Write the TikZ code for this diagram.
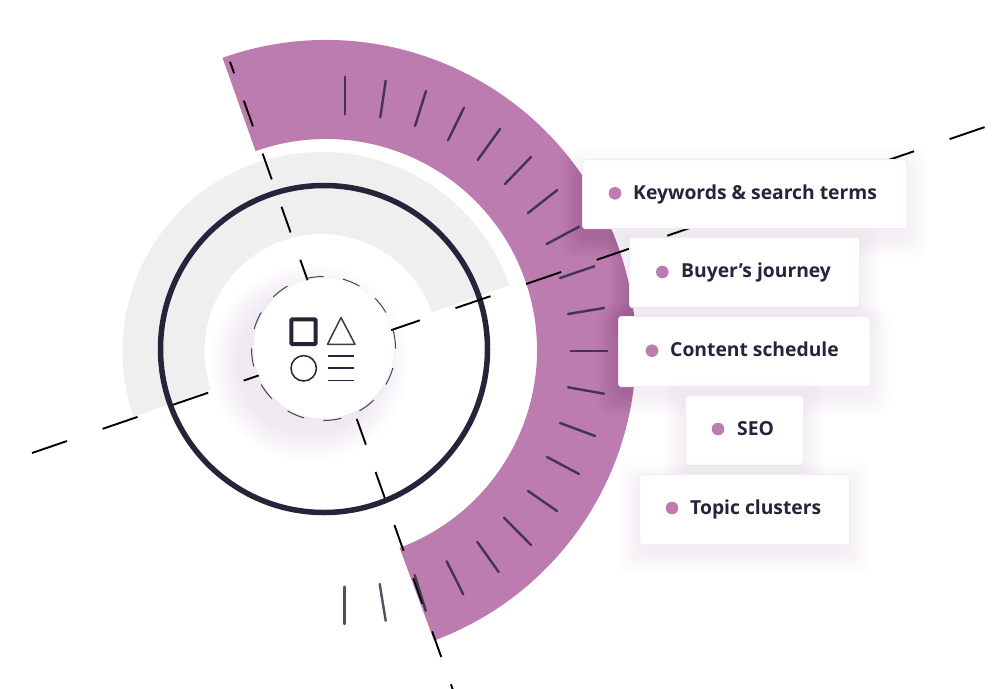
\documentclass[tikz,border=0pt]{standalone}
\usepackage{fontspec}
\setmainfont{Open Sans}
\newfontfamily\labelfont{Open Sans Bold}
\usetikzlibrary{calc}
\definecolor{ringpurple}{HTML}{BC7CB0}
\definecolor{ringgrey}{HTML}{EFEFEF}
\definecolor{inkdark}{HTML}{25243A}
\definecolor{shadowtint}{HTML}{7A4A80}
\definecolor{boxedge}{HTML}{F1EEF1}
\tikzset{
  tickmark/.style={draw=inkdark,opacity=.8,line width=2.4pt,line cap=round},
  dashline/.style={draw=black,line width=1.9pt},
  boxnode/.style={draw=boxedge,line width=1.2pt,fill=white,rounded corners=3pt,inner sep=0pt,anchor=north west},
  dotnode/.style={circle,fill=ringpurple,inner sep=0pt,minimum size=12.6pt},
  labelnode/.style={anchor=base west,inner sep=0pt,text=inkdark,font=\labelfont\fontsize{19.3}{24}\selectfont},
  iconline/.style={draw=inkdark,line cap=butt},
}
% box with soft shadow: name, x0, y0, width, height
\newcommand{\shadowbox}[5]{%
  \foreach \k in {1,...,22}{%
    \fill[shadowtint,opacity=.0045,rounded corners=12pt]
      (#2-23+\k,#3+9-23+\k) rectangle (#2+#4+23-\k,#3+#5+9+23-\k);
  }%
  \node[boxnode,minimum width=#4pt,minimum height=#5pt] (#1) at (#2,#3) {};
}
\begin{document}
\begin{tikzpicture}[x=1pt,y=-1pt]
\useasboundingbox (0,0) rectangle (1000,688);
\clip (0,0) rectangle (1000,688);
\coordinate (cbig) at (326,350);
\coordinate (cgrey) at (321.5,351);
\coordinate (cdark) at (324,349);
\coordinate (cicon) at (323.5,348.5);
% purple ring
\fill[ringpurple] ($(cbig)+(109.5:310pt)$) arc[start angle=109.5,end angle=-69.6,radius=310pt]
  -- ($(cbig)+(-69.6:211pt)$) arc[start angle=-69.6,end angle=109.5,radius=211pt] -- cycle;
% grey ring
\fill[ringgrey] ($(cgrey)+(19.3:199pt)$) arc[start angle=19.3,end angle=199.3,radius=199pt]
  -- ($(cgrey)+(199.3:117pt)$) arc[start angle=199.3,end angle=19.3,radius=117pt] -- cycle;
% dark ring
\draw[inkdark,line width=5.5pt] (cdark) circle[radius=163.5pt];
% disc shadow
\foreach \k in {1,...,30}{
  \fill[shadowtint,opacity=.0042] ($(cicon)+(-14,14)$) circle[radius=101pt-\k*1pt];
}
% dashed axes
\coordinate (axA1) at (32,453);
\coordinate (axA2) at (985,127);
\coordinate (axB1) at (230,61.7);
\coordinate (axB2) at (454,693);
\draw[dashline,dash pattern=on 37pt off 37.6pt] (axA1) -- (axA2);
\draw[dashline,dash pattern=on 27.3pt off 29pt,dash phase=15pt] (axB1) -- (axB2);
% ticks
\foreach \xa/\ya/\xb/\yb in {
 345/76.7/345/114.3, 385.7/80.7/380.3/117.3, 426/91/415/126, 464/107.7/448/140.3,
 500/129/477.7/160, 531/157/505/184, 557.3/190/528/213, 579/226.7/546.7/244,
 594.3/266.3/560/278, 604/308/568/314, 607.3/350.7/570.7/350.7, 604/393.7/568/387.3,
 595/436/560/423, 579/474/547/457, 557/511/528/491, 531/545/504/517.7,
 498.7/572/477.3/542, 463.3/594.3/446.7/561.3, 425.7/610.7/414.7/575,
 385.7/620.7/379.7/584, 344.3/624/344.3/586.7}{
  \draw[tickmark] (\xa,\ya) -- (\xb,\yb);
}
% boxes
\shadowbox{boxA}{582}{159}{324.5}{69}
\node[dotnode] (dotA) at (615,193.3) {};
\node[labelnode] (textA) at (633,199) {Keywords \& search terms};
\shadowbox{boxB}{629}{237}{230}{70}
\node[dotnode] (dotB) at (662.3,272) {};
\node[labelnode] (textB) at (681,277.5) {Buyer’s journey};
\shadowbox{boxC}{618}{316}{251.5}{70}
\node[dotnode] (dotC) at (652,350.7) {};
\node[labelnode] (textC) at (670,356) {Content schedule};
\shadowbox{boxD}{685}{395}{118}{70}
\node[dotnode] (dotD) at (718,429) {};
\node[labelnode] (textD) at (737,435) {SEO};
\shadowbox{boxE}{639}{474}{210}{70}
\node[dotnode] (dotE) at (672,508) {};
\node[labelnode] (textE) at (690,514) {Topic clusters};
% icon disc
\fill[white] (cicon) circle[radius=70pt];
\draw[inkdark,opacity=.85,line width=1pt,dash pattern=on 18pt off 19.7pt] (cicon) circle[radius=72pt];
\draw[inkdark,line width=4pt,rounded corners=1pt] (291.3,319.3) rectangle (315.7,344);
\draw[inkdark,opacity=.9,line width=1.5pt,line join=round] (341,317.5) -- (355,344.3) -- (327.5,344.3) -- cycle;
\draw[inkdark,line width=1.5pt] (303.7,368.3) circle[radius=12.7pt];
\draw[iconline,line width=2.4pt] (328.3,356) -- (354.3,356);
\draw[iconline,line width=2pt] (328.3,368.3) -- (354.3,368.3);
\draw[iconline,line width=1.5pt] (328.3,380.3) -- (354.3,380.3);
\end{tikzpicture}
\end{document}
